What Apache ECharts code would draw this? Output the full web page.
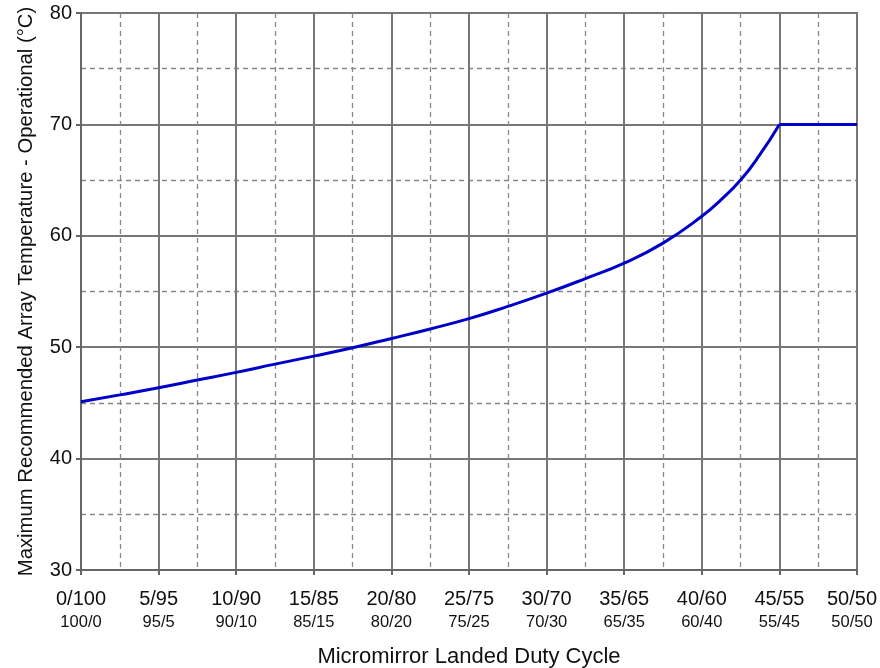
<!DOCTYPE html>
<html>
<head>
<meta charset="utf-8">
<script src="https://cdn.jsdelivr.net/npm/echarts@6/dist/echarts.min.js"></script>
<style>
html,body{margin:0;padding:0;background:#fff;}
#c{width:880px;height:668px;}
</style>
</head>
<body>
<div id="c"></div>
<script>
var dutyX = [0, 2.5, 5, 7.5, 10, 12.5, 15, 17.5, 20, 22.5, 25, 27.5, 30, 32.5, 35, 37.5, 40, 41.25, 42.5, 43.75, 45, 50];
var tempY = [45.1, 45.72, 46.36, 47.05, 47.74, 48.48, 49.2, 49.95, 50.78, 51.64, 52.56, 53.66, 54.85, 56.16, 57.55, 59.34, 61.75, 63.25, 65.0, 67.3, 70, 70];
var tickTop = ['0/100','5/95','10/90','15/85','20/80','25/75','30/70','35/65','40/60','45/55','50/50'];
var tickBottom = ['100/0','95/5','90/10','85/15','80/20','75/25','70/30','65/35','60/40','55/45','50/50'];
var xTitle = 'Micromirror Landed Duty Cycle';
var yTitle = 'Maximum Recommended Array Temperature - Operational (°C)';
var plateauStart = 20; // index of the 45/55 point where the curve turns flat

var font = '"Liberation Sans", Arial, Helvetica, sans-serif';
var chart = echarts.init(document.getElementById('c'));
var pts = dutyX.map(function(x,i){return [x, tempY[i]];});
var lineStyle = {color:'#0000c8', width:3};
chart.setOption({
  animation:false,
  backgroundColor:'#fff',
  grid:{left:81, right:23, top:13, bottom:98, outerBoundsMode:'none', containLabel:false,
        show:true, borderColor:'#666', borderWidth:2, backgroundColor:'transparent'},
  xAxis:{
    type:'value', min:0, max:50, interval:5,
    name:xTitle, nameLocation:'middle', nameGap:76,
    nameTextStyle:{fontFamily:font, fontSize:22, color:'#111'},
    axisLine:{show:true, lineStyle:{color:'#666', width:2}},
    axisTick:{show:true, length:5, lineStyle:{color:'#666', width:2}},
    axisLabel:{
      margin:18,
      formatter:function(v){
        var i=Math.round(v/5);
        var s = (i === tickTop.length-1) ? '2' : '';
        return '{a'+s+'|'+tickTop[i]+'}\n{b'+s+'|'+tickBottom[i]+'}';
      },
      rich:{
        a:{fontFamily:font, fontSize:20, color:'#111', lineHeight:23},
        b:{fontFamily:font, fontSize:16.5, color:'#111', lineHeight:23},
        a2:{fontFamily:font, fontSize:20, color:'#111', lineHeight:23, padding:[0,10,0,0]},
        b2:{fontFamily:font, fontSize:16.5, color:'#111', lineHeight:23, padding:[0,10,0,0]}
      }
    },
    splitLine:{show:true, lineStyle:{color:'#777', width:2}},
    minorTick:{show:false, splitNumber:2},
    minorSplitLine:{show:true, lineStyle:{color:'#888', width:1.3, type:[5,4]}}
  },
  yAxis:{
    type:'value', min:30, max:80, interval:10,
    name:yTitle, nameLocation:'middle', nameGap:45, nameRotate:90,
    nameTextStyle:{fontFamily:font, fontSize:20.3, color:'#111'},
    axisLine:{show:true, lineStyle:{color:'#666', width:2}},
    axisTick:{show:true, length:5, lineStyle:{color:'#666', width:2}},
    axisLabel:{fontFamily:font, fontSize:20, color:'#111', margin:9},
    splitLine:{show:true, lineStyle:{color:'#777', width:2}},
    minorTick:{show:false, splitNumber:2},
    minorSplitLine:{show:true, lineStyle:{color:'#888', width:1.3, type:[5,4]}}
  },
  series:[{
    type:'line', data:pts.slice(0, plateauStart+1), showSymbol:false, smooth:0.5,
    lineStyle:lineStyle, z:5
  },{
    type:'line', data:pts.slice(plateauStart), showSymbol:false,
    lineStyle:lineStyle, z:5
  }]
});
</script>
</body>
</html>
